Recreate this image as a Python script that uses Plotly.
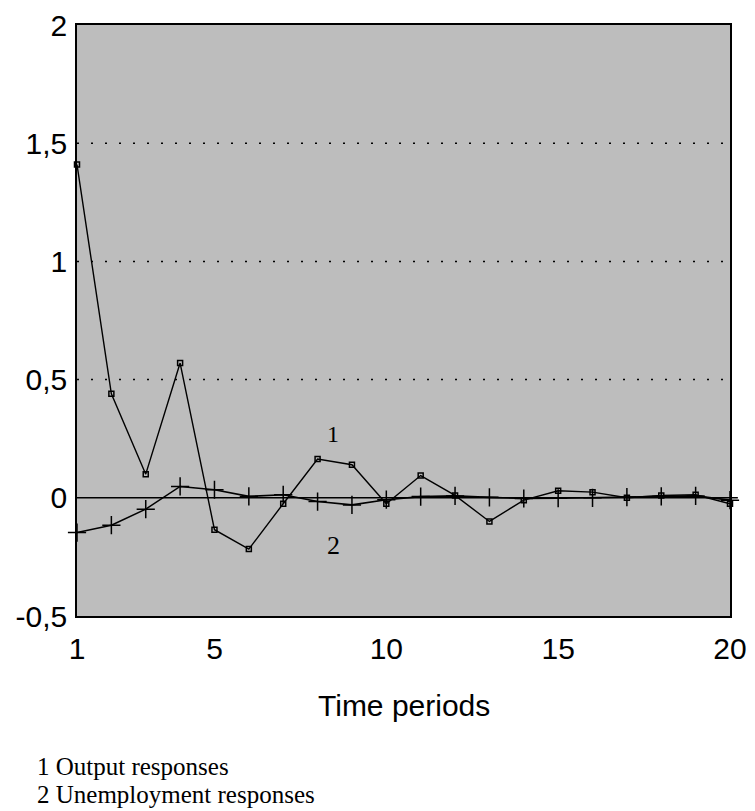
import plotly.graph_objects as go

periods = list(range(1, 21))
output_resp = [1.41, 0.44, 0.10, 0.57, -0.135, -0.217, -0.025, 0.164, 0.14, -0.025,
               0.094, 0.01, -0.10, -0.01, 0.03, 0.024, 0.0, 0.01, 0.013, -0.025]
unemp_resp = [-0.147, -0.116, -0.048, 0.048, 0.034, 0.006, 0.013, -0.016, -0.03, -0.008,
              0.005, 0.008, 0.002, -0.003, -0.002, 0.0, 0.003, 0.006, 0.008, -0.01]
yticks = [-0.5, 0, 0.5, 1, 1.5, 2]
yticklabels = ["-0,5", "0", "0,5", "1", "1,5", "2"]
xticks = [1, 5, 10, 15, 20]

fig = go.Figure()

# dotted gridlines
for g in [0.5, 1.0, 1.5]:
    fig.add_shape(type="line", xref="paper", yref="y", x0=0, x1=1, y0=g, y1=g,
                  line=dict(color="black", width=1.5, dash="2px,12px"), layer="below")
# zero line slightly extending past the right border
fig.add_shape(type="line", xref="paper", yref="y", x0=0, x1=1.012, y0=0, y1=0,
              line=dict(color="black", width=1.5))

fig.add_trace(go.Scatter(x=periods, y=unemp_resp, mode="lines+markers",
                         line=dict(color="black", width=1.6),
                         marker=dict(symbol="cross-thin", size=13,
                                     line=dict(color="black", width=1.5)),
                         cliponaxis=False, showlegend=False))
fig.add_trace(go.Scatter(x=periods, y=output_resp, mode="lines+markers",
                         line=dict(color="black", width=1.4),
                         marker=dict(symbol="square-open", size=5, color="black",
                                     line=dict(color="black", width=1.5)),
                         cliponaxis=False, showlegend=False))

fig.add_annotation(x=8.45, y=0.27, text="1", showarrow=False,
                   font=dict(family="Liberation Serif", size=24, color="black"))
fig.add_annotation(x=8.45, y=-0.2, text="2", showarrow=False,
                   font=dict(family="Liberation Serif", size=26, color="black"))

fig.add_annotation(xref="paper", yref="paper", x=0.5, y=-89/591, text="Time periods",
                   showarrow=False, xanchor="center", yanchor="middle",
                   font=dict(family="Liberation Sans", size=30, color="black"))
fig.add_annotation(xref="paper", yref="paper", x=-42/653, y=-150/591,
                   text="1 Output responses", showarrow=False, xanchor="left", yanchor="middle",
                   font=dict(family="Liberation Serif", size=25, color="black"))
fig.add_annotation(xref="paper", yref="paper", x=-42/653, y=-178/591,
                   text="2 Unemployment responses", showarrow=False, xanchor="left", yanchor="middle",
                   font=dict(family="Liberation Serif", size=25, color="black"))

fig.update_layout(
    width=755, height=803,
    margin=dict(l=69, r=33, t=17, b=195),
    paper_bgcolor="white", plot_bgcolor="#bdbdbd",
    font=dict(family="Liberation Sans", color="black"),
    xaxis=dict(range=[1, 20], tickvals=xticks, ticktext=[str(t) for t in xticks],
               showgrid=False, zeroline=False, ticks="", showline=True, linecolor="black",
               linewidth=1.5, mirror=True, tickfont=dict(size=30), ticklabelstandoff=5,
               automargin=False, ticklabeloverflow="allow"),
    yaxis=dict(range=[-0.5, 2], tickvals=yticks, ticktext=yticklabels,
               showgrid=False, zeroline=False, ticks="", showline=True, linecolor="black",
               linewidth=1.5, mirror=True, tickfont=dict(size=30), ticklabelstandoff=2,
               automargin=False, ticklabeloverflow="allow"),
)

fig.write_html("out.html")
